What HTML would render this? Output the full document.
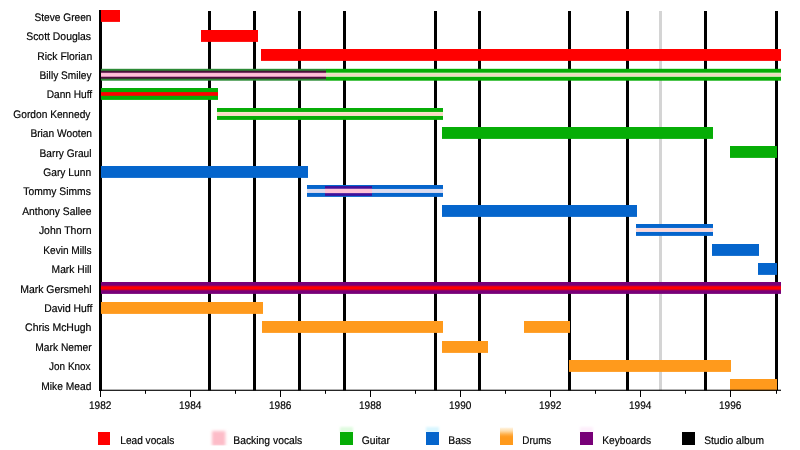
<!DOCTYPE html><html><head><meta charset="utf-8"><style>html,body{margin:0;padding:0;background:#fff}svg{display:block;will-change:transform}text{text-rendering:geometricPrecision;font-family:"Liberation Sans",sans-serif;fill:#000;stroke:#000;stroke-width:0.18px}</style></head><body>
<svg width="800" height="450" viewBox="0 0 800 450">
<defs><filter id="bl" x="-30%" y="-30%" width="160%" height="160%"><feGaussianBlur stdDeviation="1.6"/></filter><filter id="bl2" x="-30%" y="-60%" width="160%" height="220%"><feGaussianBlur stdDeviation="1.1"/></filter><clipPath id="cp"><rect x="200" y="420" width="40" height="25.4"/></clipPath><linearGradient id="og" x1="0" y1="0" x2="0" y2="1"><stop offset="0" stop-color="#fff6e6"/><stop offset="0.2" stop-color="#ffdca8"/><stop offset="0.38" stop-color="#ffb24e"/><stop offset="0.5" stop-color="#ff9e26"/><stop offset="0.6" stop-color="#ff9a1c"/><stop offset="1" stop-color="#ff9a1c"/></linearGradient></defs>
<rect width="800" height="450" fill="#fff"/>
<rect x="99" y="10" width="3" height="381" fill="#000"/>
<rect x="208" y="11" width="3" height="379.5" fill="#000"/>
<rect x="253" y="11" width="3" height="379.5" fill="#000"/>
<rect x="298" y="11" width="3" height="379.5" fill="#000"/>
<rect x="343" y="11" width="3" height="379.5" fill="#000"/>
<rect x="434" y="11" width="3" height="379.5" fill="#000"/>
<rect x="478" y="11" width="3" height="379.5" fill="#000"/>
<rect x="568" y="11" width="3" height="379.5" fill="#000"/>
<rect x="626" y="11" width="3" height="379.5" fill="#000"/>
<rect x="659" y="11" width="3" height="379.5" fill="#d4d4d4"/>
<rect x="704" y="11" width="3" height="379.5" fill="#000"/>
<rect x="775" y="11" width="3" height="379.5" fill="#000"/>
<rect x="101" y="10.00" width="19" height="11.9" fill="#ff0000"/>
<rect x="201" y="30.00" width="57" height="11.9" fill="#ff0000"/>
<rect x="261" y="49.00" width="520" height="11.9" fill="#ff0000"/>
<rect x="326" y="68.80" width="455" height="11.9" fill="#06ad06"/>
<rect x="326" y="72.65" width="455" height="4.2" fill="#e2ecc2"/>
<rect x="326" y="73.85" width="455" height="1.8" fill="#f2d6c0"/>
<rect x="101" y="68.80" width="225" height="11.9" fill="#2c8a36"/>
<rect x="101" y="70.75" width="225" height="8" fill="#4a1238"/>
<rect x="101" y="72.75" width="225" height="4" fill="#ffa8e0"/>
<rect x="101" y="73.45" width="225" height="2.6" fill="#ffc2d6"/>
<rect x="101" y="88.00" width="117" height="11.9" fill="#06ad06"/>
<rect x="101" y="92.10" width="117" height="3.7" fill="#ff0000"/>
<rect x="217" y="108.00" width="226" height="11.9" fill="#06ad06"/>
<rect x="217" y="111.95" width="226" height="4" fill="#f3ecc6"/>
<rect x="217" y="112.65" width="226" height="2.6" fill="#fdd8c6"/>
<rect x="442" y="127.00" width="271" height="11.9" fill="#06ad06"/>
<rect x="730" y="146.00" width="47" height="11.9" fill="#06ad06"/>
<rect x="101" y="166.00" width="207" height="11.9" fill="#0565cc"/>
<rect x="307" y="185.00" width="136" height="11.9" fill="#0565cc"/>
<rect x="307" y="188.95" width="136" height="4" fill="#dcdcf0"/>
<rect x="325" y="186.05" width="47" height="9.8" fill="#40109a"/>
<rect x="325" y="188.75" width="47" height="4.4" fill="#ffc2d6"/>
<rect x="442" y="205.00" width="195" height="11.9" fill="#0565cc"/>
<rect x="636" y="224.00" width="77" height="11.9" fill="#0565cc"/>
<rect x="636" y="227.95" width="77" height="4" fill="#ecdcea"/>
<rect x="636" y="228.65" width="77" height="2.6" fill="#ffd6d4"/>
<rect x="712" y="244.00" width="47" height="11.9" fill="#0565cc"/>
<rect x="758" y="263.00" width="19" height="11.9" fill="#0565cc"/>
<rect x="101" y="282.00" width="680" height="11.9" fill="#780078"/>
<rect x="101" y="285.35" width="680" height="5.2" fill="#a80050"/>
<rect x="101" y="286.35" width="680" height="3.2" fill="#ff0000"/>
<rect x="101" y="302.00" width="162" height="11.9" fill="#ff9a1c"/>
<rect x="262" y="321.00" width="181" height="11.9" fill="#ff9a1c"/>
<rect x="524" y="321.00" width="46" height="11.9" fill="#ff9a1c"/>
<rect x="442" y="341.00" width="46" height="11.9" fill="#ff9a1c"/>
<rect x="569" y="360.00" width="162" height="11.9" fill="#ff9a1c"/>
<rect x="730" y="379.00" width="47" height="11.9" fill="#ff9a1c"/>
<rect x="100" y="389.7" width="681" height="1.15" fill="#000"/>
<rect x="100.00" y="390" width="1" height="7" fill="#000"/>
<text x="89.00" y="409" font-size="11" textLength="22.4" lengthAdjust="spacingAndGlyphs">1982</text>
<rect x="145.00" y="390" width="1" height="3.8" fill="#000"/>
<rect x="190.00" y="390" width="1" height="7" fill="#000"/>
<text x="179.00" y="409" font-size="11" textLength="22.4" lengthAdjust="spacingAndGlyphs">1984</text>
<rect x="235.00" y="390" width="1" height="3.8" fill="#000"/>
<rect x="280.00" y="390" width="1" height="7" fill="#000"/>
<text x="269.00" y="409" font-size="11" textLength="22.4" lengthAdjust="spacingAndGlyphs">1986</text>
<rect x="325.00" y="390" width="1" height="3.8" fill="#000"/>
<rect x="370.00" y="390" width="1" height="7" fill="#000"/>
<text x="359.00" y="409" font-size="11" textLength="22.4" lengthAdjust="spacingAndGlyphs">1988</text>
<rect x="415.00" y="390" width="1" height="3.8" fill="#000"/>
<rect x="460.00" y="390" width="1" height="7" fill="#000"/>
<text x="449.00" y="409" font-size="11" textLength="22.4" lengthAdjust="spacingAndGlyphs">1990</text>
<rect x="505.00" y="390" width="1" height="3.8" fill="#000"/>
<rect x="550.00" y="390" width="1" height="7" fill="#000"/>
<text x="539.00" y="409" font-size="11" textLength="22.4" lengthAdjust="spacingAndGlyphs">1992</text>
<rect x="595.00" y="390" width="1" height="3.8" fill="#000"/>
<rect x="640.00" y="390" width="1" height="7" fill="#000"/>
<text x="629.00" y="409" font-size="11" textLength="22.4" lengthAdjust="spacingAndGlyphs">1994</text>
<rect x="685.00" y="390" width="1" height="3.8" fill="#000"/>
<rect x="730.00" y="390" width="1" height="7" fill="#000"/>
<text x="719.00" y="409" font-size="11" textLength="22.4" lengthAdjust="spacingAndGlyphs">1996</text>
<rect x="776.00" y="390" width="1" height="3.8" fill="#000"/>
<text x="34.40" y="20.95" font-size="11" textLength="57.10" lengthAdjust="spacingAndGlyphs">Steve Green</text>
<text x="26.20" y="39.95" font-size="11" textLength="64.90" lengthAdjust="spacingAndGlyphs">Scott Douglas</text>
<text x="37.30" y="59.95" font-size="11" textLength="54.90" lengthAdjust="spacingAndGlyphs">Rick Florian</text>
<text x="39.60" y="78.75" font-size="11" textLength="51.90" lengthAdjust="spacingAndGlyphs">Billy Smiley</text>
<text x="46.70" y="97.95" font-size="11" textLength="45.50" lengthAdjust="spacingAndGlyphs">Dann Huff</text>
<text x="13.30" y="117.95" font-size="11" textLength="77.10" lengthAdjust="spacingAndGlyphs">Gordon Kennedy</text>
<text x="30.40" y="136.95" font-size="11" textLength="61.60" lengthAdjust="spacingAndGlyphs">Brian Wooten</text>
<text x="39.60" y="156.65" font-size="11" textLength="51.90" lengthAdjust="spacingAndGlyphs">Barry Graul</text>
<text x="43.30" y="175.95" font-size="11" textLength="47.80" lengthAdjust="spacingAndGlyphs">Gary Lunn</text>
<text x="23.30" y="194.95" font-size="11" textLength="67.50" lengthAdjust="spacingAndGlyphs">Tommy Simms</text>
<text x="22.20" y="214.95" font-size="11" textLength="69.30" lengthAdjust="spacingAndGlyphs">Anthony Sallee</text>
<text x="38.90" y="233.95" font-size="11" textLength="52.60" lengthAdjust="spacingAndGlyphs">John Thorn</text>
<text x="43.30" y="253.95" font-size="11" textLength="48.20" lengthAdjust="spacingAndGlyphs">Kevin Mills</text>
<text x="51.60" y="273.20" font-size="11" textLength="39.90" lengthAdjust="spacingAndGlyphs">Mark Hill</text>
<text x="20.20" y="292.95" font-size="11" textLength="71.50" lengthAdjust="spacingAndGlyphs">Mark Gersmehl</text>
<text x="44.20" y="311.95" font-size="11" textLength="48.10" lengthAdjust="spacingAndGlyphs">David Huff</text>
<text x="25.10" y="331.20" font-size="11" textLength="66.30" lengthAdjust="spacingAndGlyphs">Chris McHugh</text>
<text x="35.30" y="350.95" font-size="11" textLength="56.40" lengthAdjust="spacingAndGlyphs">Mark Nemer</text>
<text x="49.10" y="369.95" font-size="11" textLength="41.50" lengthAdjust="spacingAndGlyphs">Jon Knox</text>
<text x="41.30" y="389.75" font-size="11" textLength="50.10" lengthAdjust="spacingAndGlyphs">Mike Mead</text>
<rect x="98" y="432" width="12" height="13" fill="#ff0000"/>
<text x="120.30" y="444" font-size="11" textLength="54.00" lengthAdjust="spacingAndGlyphs">Lead vocals</text>
<g clip-path="url(#cp)"><rect x="212" y="431" width="13.4" height="15" fill="#fdbcc8" filter="url(#bl)"/></g>
<text x="233.30" y="444" font-size="11" textLength="69.00" lengthAdjust="spacingAndGlyphs">Backing vocals</text>
<rect x="340" y="427" width="13" height="5.5" fill="#e0fbe0" filter="url(#bl2)"/>
<rect x="340" y="432" width="13" height="13" fill="#06ad06"/>
<text x="361.70" y="444" font-size="11" textLength="28.20" lengthAdjust="spacingAndGlyphs">Guitar</text>
<rect x="426" y="427" width="13" height="5.5" fill="#d8f6ff" filter="url(#bl2)"/>
<rect x="426" y="432" width="13" height="13" fill="#0565cc"/>
<text x="448.30" y="444" font-size="11" textLength="23.00" lengthAdjust="spacingAndGlyphs">Bass</text>
<rect x="500" y="427.5" width="13" height="17.5" fill="url(#og)"/>
<text x="522.30" y="444" font-size="11" textLength="29.00" lengthAdjust="spacingAndGlyphs">Drums</text>
<rect x="580" y="427" width="13" height="5.5" fill="#fdeffb" filter="url(#bl2)"/>
<rect x="580" y="432" width="13" height="13" fill="#780078"/>
<text x="602.20" y="444" font-size="11" textLength="48.85" lengthAdjust="spacingAndGlyphs">Keyboards</text>
<rect x="682" y="432" width="13" height="13" fill="#000"/>
<text x="704.20" y="444" font-size="11" textLength="59.85" lengthAdjust="spacingAndGlyphs">Studio album</text>
</svg></body></html>
